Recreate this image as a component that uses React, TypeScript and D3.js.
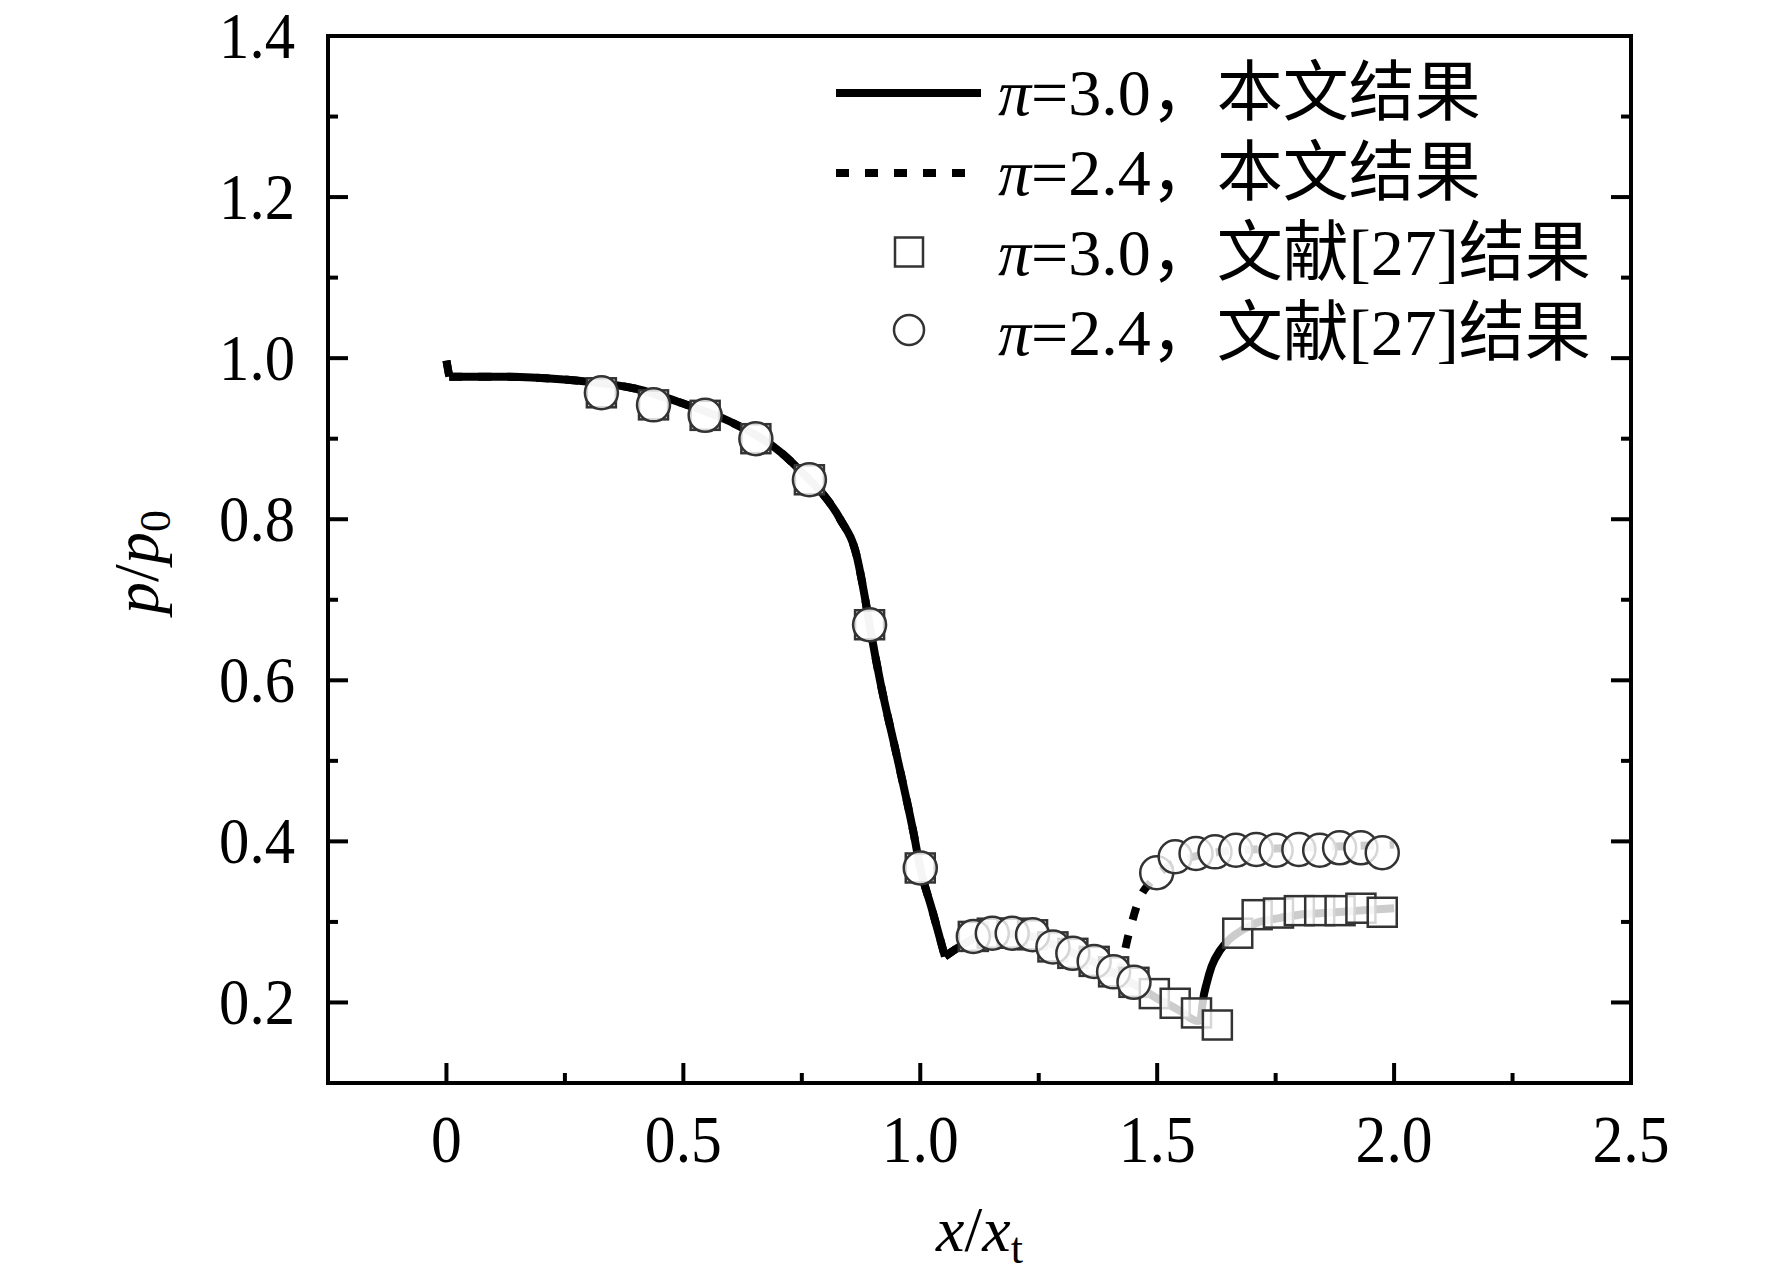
// @ts-nocheck
import { scaleLinear, line, curveMonotoneX } from "d3";
import React from "react";

// solid curve, pi = 3.0 (present work)
const line30X = [0, 0.006, 0.1, 0.18, 0.295, 0.4, 0.498, 0.596, 0.708, 0.766, 0.792, 0.831, 0.866, 0.884, 0.893, 0.916, 0.951, 0.986, 1.0, 1.025, 1.052, 1.082, 1.12, 1.16, 1.2, 1.24, 1.28, 1.32, 1.37, 1.41, 1.45, 1.5, 1.55, 1.585, 1.592, 1.596, 1.605, 1.615, 1.633, 1.65, 1.68, 1.71, 1.76, 1.8, 1.85, 1.9, 1.95, 2.0];
const line30Y = [0.997, 0.977, 0.977, 0.976, 0.971, 0.962, 0.944, 0.922, 0.882, 0.849, 0.833, 0.8, 0.754, 0.7, 0.669, 0.597, 0.505, 0.41, 0.367, 0.315, 0.257, 0.269, 0.281, 0.285, 0.285, 0.281, 0.272, 0.262, 0.249, 0.236, 0.223, 0.205, 0.189, 0.177, 0.178, 0.2, 0.225, 0.245, 0.265, 0.277, 0.29, 0.299, 0.305, 0.309, 0.311, 0.313, 0.315, 0.317];

// dotted curve, pi = 2.4 (present work)
const line24X = [0, 0.006, 0.1, 0.18, 0.295, 0.4, 0.498, 0.596, 0.708, 0.766, 0.792, 0.831, 0.866, 0.884, 0.893, 0.916, 0.951, 0.986, 1.0, 1.025, 1.052, 1.082, 1.12, 1.16, 1.2, 1.24, 1.28, 1.32, 1.37, 1.41, 1.42, 1.44, 1.46, 1.49, 1.52, 1.56, 1.6, 1.65, 1.7, 1.8, 1.9, 2.0];
const line24Y = [0.997, 0.977, 0.977, 0.976, 0.971, 0.962, 0.944, 0.922, 0.882, 0.849, 0.833, 0.8, 0.754, 0.7, 0.669, 0.597, 0.505, 0.41, 0.367, 0.315, 0.257, 0.269, 0.281, 0.285, 0.285, 0.281, 0.272, 0.262, 0.249, 0.236, 0.24, 0.285, 0.325, 0.352, 0.368, 0.378, 0.384, 0.388, 0.39, 0.392, 0.394, 0.396];

// sharp corners in the curves (x positions where the curve kinks)
const cornersX = [0.006, 1.052, 1.41, 1.592];

// reference [27], pi = 3.0 (squares)
const sq30X = [0.327, 0.437, 0.546, 0.653, 0.766, 0.893, 1.0, 1.112, 1.152, 1.194, 1.237, 1.28, 1.322, 1.367, 1.408, 1.451, 1.494, 1.538, 1.583, 1.627, 1.67, 1.711, 1.756, 1.8, 1.843, 1.886, 1.93, 1.975];
const sq30Y = [0.957, 0.942, 0.929, 0.9, 0.849, 0.669, 0.367, 0.282, 0.286, 0.286, 0.284, 0.269, 0.261, 0.251, 0.238, 0.225, 0.211, 0.199, 0.187, 0.172, 0.286, 0.309, 0.311, 0.314, 0.314, 0.314, 0.317, 0.312];

// reference [27], pi = 2.4 (circles)
const ci24X = [0.327, 0.437, 0.546, 0.653, 0.766, 0.893, 1.0, 1.112, 1.152, 1.194, 1.237, 1.28, 1.322, 1.367, 1.408, 1.451, 1.499, 1.538, 1.582, 1.622, 1.666, 1.709, 1.751, 1.799, 1.843, 1.885, 1.93, 1.975];
const ci24Y = [0.957, 0.942, 0.929, 0.9, 0.849, 0.669, 0.367, 0.282, 0.286, 0.286, 0.284, 0.269, 0.261, 0.251, 0.238, 0.225, 0.361, 0.381, 0.385, 0.387, 0.389, 0.39, 0.389, 0.39, 0.389, 0.392, 0.392, 0.386];

const xMajor = [0, 0.5, 1.0, 1.5, 2.0, 2.5];
const xMajorLabels = ["0", "0.5", "1.0", "1.5", "2.0", "2.5"];
const xMinor = [0.25, 0.75, 1.25, 1.75, 2.25];
const yMajor = [0.2, 0.4, 0.6, 0.8, 1.0, 1.2, 1.4];
const yMajorLabels = ["0.2", "0.4", "0.6", "0.8", "1.0", "1.2", "1.4"];
const yMinor = [0.3, 0.5, 0.7, 0.9, 1.1, 1.3];

const legendPi = ["3.0", "2.4", "3.0", "2.4"];
const legendText = ["本文结果", "本文结果", "文献[27]结果", "文献[27]结果"];

const W = 1772;
const H = 1285;
const L = 328, R = 1631, T = 36, B = 1083;
const FONT = "'Liberation Serif', 'Times New Roman', 'Noto Sans CJK SC', serif";

// split a curve at its corners so each piece can be smoothed on its own
const pieces = (xs, ys) => {
  const out = [];
  let cur = [];
  xs.forEach((v, i) => {
    cur.push([v, ys[i]]);
    if (cornersX.includes(v) && i < xs.length - 1) {
      out.push(cur);
      cur = [[v, ys[i]]];
    }
  });
  out.push(cur);
  return out;
};

const App = () => {
  const x = scaleLinear().domain([-0.25, 2.5]).range([L, R]);
  const y = scaleLinear().domain([0.1, 1.4]).range([B, T]);

  const path = line().x((d) => x(d[0])).y((d) => y(d[1])).curve(curveMonotoneX);
  const d30 = pieces(line30X, line30Y).map((p) => path(p)).join(" ");
  const d24 = path(line24X.map((v, i) => [v, line24Y[i]]));
  const d24s = pieces(line24X, line24Y).map((p) => path(p)).join(" ");

  const sqSize = 29;
  const cr = 16.5;
  const markerStroke = "#333";

  return (
    <svg width={W} height={H} style={{ position: "absolute", left: 0, top: 0, background: "#fff" }} fontFamily={FONT}>
      <rect x={0} y={0} width={W} height={H} fill="#fff" />

      {/* curves */}
      <path d={d30} fill="none" stroke="#000" strokeWidth={8} strokeLinejoin="round" />
      <path d={d24s} fill="none" stroke="#000" strokeWidth={8} strokeDasharray="13 16" />

      {/* reference markers */}
      {sq30X.map((v, i) => (
        <rect
          key={"s" + i}
          x={x(v) - sqSize / 2}
          y={y(sq30Y[i]) - sqSize / 2}
          width={sqSize}
          height={sqSize}
          fill="#fff"
          fillOpacity={0.8}
          stroke={markerStroke}
          strokeWidth={2.5}
        />
      ))}
      {ci24X.map((v, i) => (
        <circle
          key={"c" + i}
          cx={x(v)}
          cy={y(ci24Y[i])}
          r={cr}
          fill="#fff"
          fillOpacity={0.8}
          stroke={markerStroke}
          strokeWidth={2.5}
        />
      ))}

      {/* frame */}
      <rect x={L} y={T} width={R - L} height={B - T} fill="none" stroke="#000" strokeWidth={4} />

      {/* x ticks */}
      {xMajor.map((v) => (
        <line key={"xM" + v} x1={x(v)} x2={x(v)} y1={B} y2={B - 20} stroke="#000" strokeWidth={4} />
      ))}
      {xMinor.map((v) => (
        <line key={"xm" + v} x1={x(v)} x2={x(v)} y1={B} y2={B - 10} stroke="#000" strokeWidth={4} />
      ))}
      {xMajor.map((v, i) => (
        <text key={"xl" + v} transform={`translate(${x(v)},1162) scale(0.92,1)`} textAnchor="middle" fontSize={67}>
          {xMajorLabels[i]}
        </text>
      ))}

      {/* y ticks, left and right */}
      {yMajor.map((v) => (
        <g key={"yM" + v}>
          <line x1={L} x2={L + 20} y1={y(v)} y2={y(v)} stroke="#000" strokeWidth={4} />
          <line x1={R} x2={R - 20} y1={y(v)} y2={y(v)} stroke="#000" strokeWidth={4} />
        </g>
      ))}
      {yMinor.map((v) => (
        <g key={"ym" + v}>
          <line x1={L} x2={L + 10} y1={y(v)} y2={y(v)} stroke="#000" strokeWidth={4} />
          <line x1={R} x2={R - 10} y1={y(v)} y2={y(v)} stroke="#000" strokeWidth={4} />
        </g>
      ))}
      {yMajor.map((v, i) => (
        <text key={"yl" + v} transform={`translate(295,${y(v) + 22}) scale(0.92,1)`} textAnchor="end" fontSize={66}>
          {yMajorLabels[i]}
        </text>
      ))}

      {/* axis titles */}
      <text x={(L + R) / 2} y={1251} textAnchor="middle" fontSize={64}>
        <tspan fontStyle="italic">x</tspan>/<tspan fontStyle="italic">x</tspan>
        <tspan fontSize={44} dy={12}>t</tspan>
      </text>
      <text transform="translate(158,562) rotate(-90)" textAnchor="middle" fontSize={64}>
        <tspan fontStyle="italic">p</tspan>/<tspan fontStyle="italic">p</tspan>
        <tspan fontSize={44} dy={12}>0</tspan>
      </text>

      {/* legend */}
      <line x1={836} x2={981} y1={93} y2={93} stroke="#000" strokeWidth={8} />
      <line x1={836} x2={981} y1={173} y2={173} stroke="#000" strokeWidth={8} strokeDasharray="13 16" />
      <rect x={909 - 14} y={252 - 14.5} width={28} height={29} fill="#fff" stroke={markerStroke} strokeWidth={2.5} />
      <circle cx={909} cy={330} r={15} fill="#fff" stroke={markerStroke} strokeWidth={2.5} />
      {legendText.map((t, i) => (
        <text key={"lg" + i} x={998} y={115 + i * 80} fontSize={66}>
          <tspan fontStyle="italic">π</tspan>={legendPi[i]}，{t}
        </text>
      ))}
    </svg>
  );
};

export default App;
